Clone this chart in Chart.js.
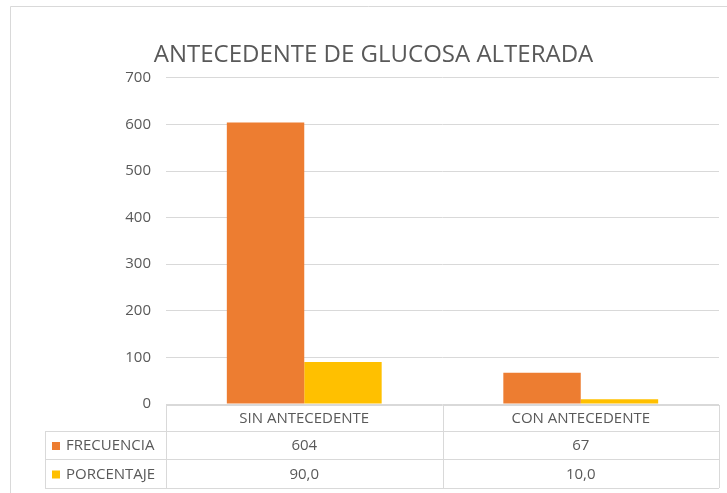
<!DOCTYPE html>
<html>
<head>
<meta charset="utf-8">
<script src="https://cdn.jsdelivr.net/npm/chart.js@4/dist/chart.umd.min.js"></script>
<style>
  html, body { margin: 0; padding: 0; background: #fff; }
  #wrap { width: 727px; height: 493px; }
</style>
</head>
<body>
<div id="wrap"><canvas id="chart" width="727" height="493"></canvas></div>
<script>
// data
var categories = ['SIN ANTECEDENTE', 'CON ANTECEDENTE'];
var frecuencia = [604, 67];
var porcentaje = [90.0, 10.0];
var yTicks = [0, 100, 200, 300, 400, 500, 600, 700];

var textColor = '#595959';
var gridColor = '#d9d9d9';
var fontFamily = '"Open Sans", "Liberation Sans", sans-serif';

function fmt(v, decimals) {
  return v.toFixed(decimals).replace('.', ',');
}

// frame around the whole chart (cropped on right and bottom)
var framePlugin = {
  id: 'frame',
  beforeDraw: function (chart) {
    var ctx = chart.ctx;
    ctx.save();
    ctx.strokeStyle = gridColor;
    ctx.lineWidth = 1;
    ctx.beginPath();
    ctx.moveTo(10.5, chart.height);
    ctx.lineTo(10.5, 6.5);
    ctx.lineTo(chart.width, 6.5);
    ctx.stroke();
    ctx.restore();
  }
};

// excel style data table under the plot
var tablePlugin = {
  id: 'dataTable',
  afterDraw: function (chart) {
    var ctx = chart.ctx;
    var x = chart.scales.x;
    var area = chart.chartArea;
    var n = chart.data.labels.length;
    var colW = (area.right - area.left) / n;
    var top = area.bottom + 1;
    var rowsY = [top, top + 26, top + 54, top + 83];
    var legendLeft = 45;

    ctx.save();
    ctx.strokeStyle = gridColor;
    ctx.lineWidth = 1;
    ctx.beginPath();
    // horizontal lines
    ctx.moveTo(area.left, rowsY[0] + 0.5);
    ctx.lineTo(area.right, rowsY[0] + 0.5);
    for (var r = 1; r < rowsY.length; r++) {
      ctx.moveTo(legendLeft, rowsY[r] + 0.5);
      ctx.lineTo(area.right, rowsY[r] + 0.5);
    }
    // vertical lines
    ctx.moveTo(legendLeft + 0.5, rowsY[1]);
    ctx.lineTo(legendLeft + 0.5, rowsY[3]);
    for (var c = 0; c <= n; c++) {
      var vx = Math.round(area.left + c * colW) + 0.5;
      ctx.moveTo(vx, rowsY[0]);
      ctx.lineTo(vx, rowsY[3]);
    }
    ctx.stroke();

    ctx.fillStyle = textColor;
    ctx.font = '15px ' + fontFamily;
    ctx.textAlign = 'center';
    ctx.textBaseline = 'middle';
    chart.data.labels.forEach(function (lab, i) {
      ctx.fillText(lab, x.getPixelForValue(i), (rowsY[0] + rowsY[1]) / 2 + 1);
    });

    chart.data.datasets.forEach(function (ds, d) {
      var yMid = (rowsY[d + 1] + rowsY[d + 2]) / 2 + 1;
      ctx.fillStyle = ds.backgroundColor;
      ctx.fillRect(52, yMid - 4, 8, 8);
      ctx.fillStyle = textColor;
      ctx.textAlign = 'left';
      ctx.fillText(ds.label, 66, yMid);
      ctx.textAlign = 'center';
      ds.data.forEach(function (v, i) {
        ctx.fillText(fmt(v, ds.decimals), x.getPixelForValue(i), yMid);
      });
    });
    ctx.restore();
  }
};

new Chart(document.getElementById('chart'), {
  type: 'bar',
  data: {
    labels: categories,
    datasets: [
      { label: 'FRECUENCIA', data: frecuencia, decimals: 0, backgroundColor: '#ED7D31' },
      { label: 'PORCENTAJE', data: porcentaje, decimals: 1, backgroundColor: '#FFC000' }
    ]
  },
  options: {
    responsive: false,
    animation: false,
    devicePixelRatio: 1,
    layout: { padding: { left: 28, right: 8, top: 0, bottom: 89 } },
    datasets: { bar: { categoryPercentage: 0.56, barPercentage: 1 } },
    plugins: {
      legend: { display: false },
      tooltip: { enabled: false },
      title: {
        display: true,
        text: 'ANTECEDENTE DE GLUCOSA ALTERADA',
        color: textColor,
        font: { family: fontFamily, size: 24, weight: 'normal', lineHeight: 1.2 },
        padding: { top: 41, bottom: 8 }
      }
    },
    scales: {
      x: { display: false },
      y: {
        min: 0,
        max: 700,
        afterFit: function (scale) { scale.width = 138; },
        afterBuildTicks: function (scale) {
          scale.ticks = yTicks.map(function (v) { return { value: v }; });
        },
        border: { display: false },
        grid: { color: gridColor, drawTicks: false },
        ticks: {
          color: textColor,
          padding: 15,
          font: { family: fontFamily, size: 15 }
        }
      }
    }
  },
  plugins: [framePlugin, tablePlugin]
});
</script>
</body>
</html>
